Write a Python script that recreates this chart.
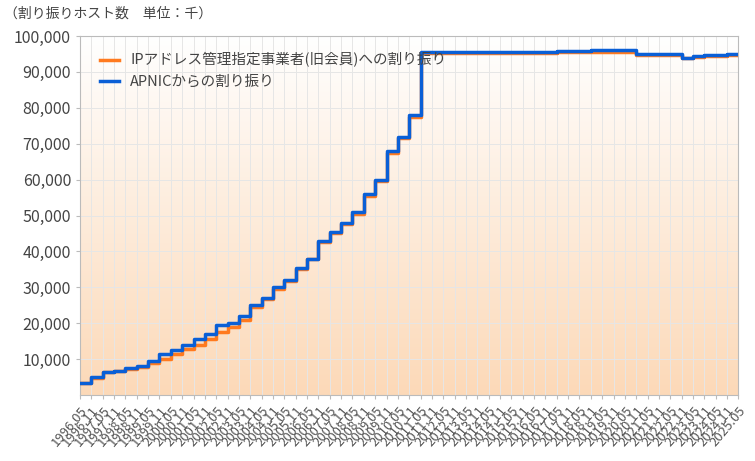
import numpy as np, pandas as pd, seaborn as sns, matplotlib.pyplot as plt
plt.rcParams['font.family'] = 'Noto Sans CJK JP'

labels = [f"{y}.{m}" for y in range(1996, 2026) for m in ("05", "11")][:-1]
apnic = [3500,5000,6500,6800,7500,8200,9500,11500,12500,14000,15500,17000,19500,20000,22000,25000,
         27000,30000,32000,35500,38000,43000,45500,48000,51000,56000,60000,68000,72000,78000,
         95500,95500,95500,95500,95500,95500,95500,95500,95500,95500,95600,95600,95700,95800,95900,
         96000,96000,96000,96000,95000,95000,95000,95000,94000,94500,94600,94700,95000,95000]
member = [3300,4800,6300,6600,7200,7800,8800,10000,11500,12800,14000,15500,17500,19000,21000,24500,
          26800,29500,31800,35200,37800,42500,45200,47500,50500,55500,59500,67500,71500,77500,
          95200,95200,95200,95200,95200,95200,95200,95200,95200,95200,95300,95300,95400,95400,95500,
          95600,95600,95600,95600,94600,94600,94600,94600,93800,94200,94300,94400,94600,94600]

df = pd.DataFrame({"x": np.arange(len(labels)), "m": member, "a": apnic})
fig, ax = plt.subplots(figsize=(7.55, 4.61), dpi=100)
fig.subplots_adjust(left=0.106, right=0.978, top=0.922, bottom=0.143)
ax.imshow(np.linspace(0,1,256)[:,None], aspect='auto', extent=(0, len(labels)-1, 0, 100000),
          cmap=plt.matplotlib.colors.LinearSegmentedColormap.from_list('g', ['#ffffff', '#fcd9b8']),
          origin='upper', zorder=0)
sns.lineplot(data=df, x="x", y="m", color="#ff7a1f", lw=2.5, ax=ax, label="IPアドレス管理指定事業者(旧会員)への割り振り", zorder=3, drawstyle='steps-post')
sns.lineplot(data=df, x="x", y="a", color="#0a5fd6", lw=2.5, ax=ax, label="APNICからの割り振り", zorder=4, drawstyle='steps-post')
ax.set_xlim(0, len(labels)-1); ax.set_ylim(0, 100000)
ax.set_xticks(df["x"]); ax.set_xticklabels(labels, rotation=50, ha='right', rotation_mode='anchor', fontsize=9.5, color='#555555')
ax.set_yticks(range(10000, 100001, 10000))
ax.set_yticklabels([f"{v:,}" for v in range(10000, 100001, 10000)], fontsize=11.5, color='#444444')
ax.grid(True, color='#e6e6e6', lw=0.7, zorder=1); ax.set_axisbelow(True)
ax.set_xlabel(""); ax.set_ylabel("")
for s in ax.spines.values(): s.set_color('#bbbbbb')
ax.tick_params(length=3, color='#bbbbbb')
ax.legend(loc='upper left', frameon=False, fontsize=10.5, bbox_to_anchor=(0.01, 0.99), handlelength=1.3, labelcolor='#444444')
fig.text(0.005, 0.985, "（割り振りホスト数　単位：千）", fontsize=10, va='top', color='#444444')
fig.savefig("out.png")
